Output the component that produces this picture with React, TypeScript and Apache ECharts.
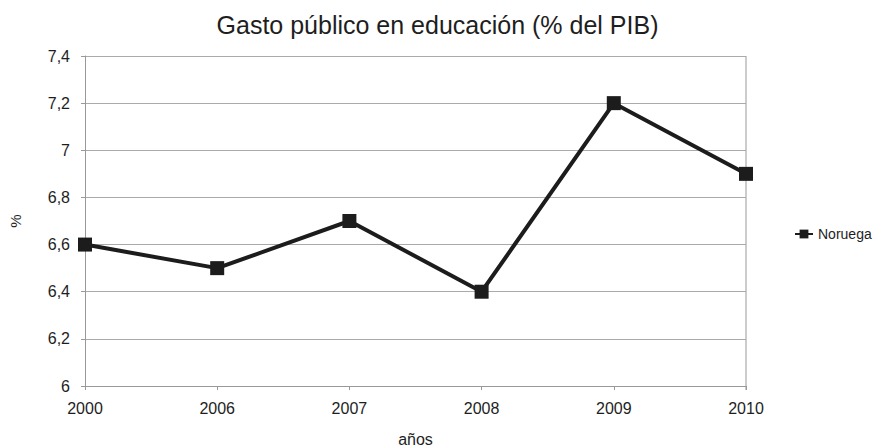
import React, { useEffect, useRef } from "react";
import * as echarts from "echarts";

const years = ["2000", "2006", "2007", "2008", "2009", "2010"];
const noruega = [6.6, 6.5, 6.7, 6.4, 7.2, 6.9];
const seriesName = "Noruega";
const titleText = "Gasto público en educación (% del PIB)";

const FONT = "Liberation Sans";

export default function App() {
  const ref = useRef<HTMLDivElement>(null);
  useEffect(() => {
    const chart = echarts.init(ref.current!, null, { renderer: "svg" });
    chart.setOption({
      animation: false,
      backgroundColor: "#ffffff",
      title: {
        text: titleText,
        left: "center",
        top: 7,
        textStyle: { fontFamily: FONT, fontSize: 25, fontWeight: "normal", color: "#1e1e1e" },
      },
      legend: {
        data: [seriesName],
        left: 789,
        top: 222,
        itemWidth: 18,
        itemHeight: 11,
        itemGap: 4,
        textStyle: { fontFamily: FONT, fontSize: 14, color: "#1e1e1e" },
      },
      grid: {
        left: 85,
        right: 129,
        top: 56,
        bottom: 61,
        containLabel: false,
        outerBoundsMode: "none",
      },
      xAxis: {
        type: "category",
        data: years,
        boundaryGap: false,
        name: "años",
        nameLocation: "middle",
        nameGap: 45,
        nameTextStyle: { fontFamily: FONT, fontSize: 16, color: "#1e1e1e" },
        axisLine: { lineStyle: { color: "#999" } },
        axisTick: { show: true, length: 4, lineStyle: { color: "#999" } },
        axisLabel: { fontFamily: FONT, fontSize: 16, color: "#1e1e1e", margin: 14 },
        splitLine: { show: false },
      },
      yAxis: {
        type: "value",
        min: 6,
        max: 7.4,
        interval: 0.2,
        name: "%",
        nameLocation: "middle",
        nameGap: 62,
        nameRotate: 90,
        nameTextStyle: { fontFamily: FONT, fontSize: 15, color: "#1e1e1e" },
        axisLine: { show: true, lineStyle: { color: "#999" } },
        axisTick: { show: true, length: 4, lineStyle: { color: "#999" } },
        axisLabel: {
          fontFamily: FONT,
          fontSize: 16,
          color: "#1e1e1e",
          margin: 15,
          formatter: (v: number) => String(Math.round(v * 10) / 10).replace(".", ","),
        },
        splitLine: { show: true, lineStyle: { color: "#aaa", width: 1 } },
      },
      series: [
        {
          name: seriesName,
          type: "line",
          data: noruega,
          symbol: "rect",
          symbolSize: 14,
          lineStyle: { color: "#1c1c1c", width: 4 },
          itemStyle: { color: "#1c1c1c" },
        },
      ],
      graphic: [
        {
          type: "line",
          shape: { x1: 746, y1: 56, x2: 746, y2: 390 },
          style: { stroke: "#999", lineWidth: 1 },
        },
      ],
    });
    return () => chart.dispose();
  }, []);
  return (
    <div
      ref={ref}
      style={{ position: "fixed", left: 0, top: 0, width: 875, height: 447 }}
    />
  );
}
